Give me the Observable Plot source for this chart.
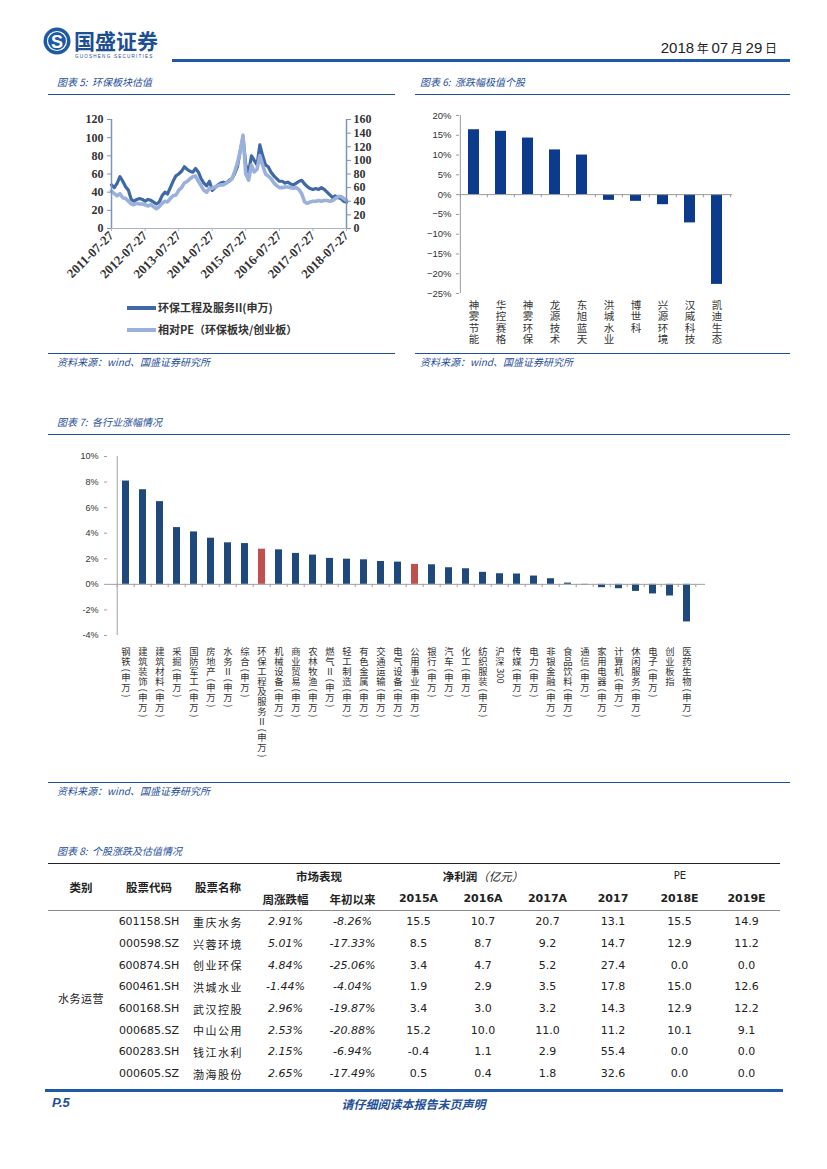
<!DOCTYPE html>
<html><head><meta charset="utf-8">
<script src="https://cdn.jsdelivr.net/npm/d3@7"></script>
<script src="https://cdn.jsdelivr.net/npm/@observablehq/plot@0.6"></script>
<style>
html,body{margin:0;padding:0;background:#fff}
body{width:827px;height:1169px;position:relative;overflow:hidden;font-family:"Noto Sans CJK SC",sans-serif;color:#222}
.abs{position:absolute}
.title{position:absolute;font-size:10px;font-style:italic;color:#1f4f99;white-space:nowrap;line-height:12px}
.rule{position:absolute;height:0;border-top:1.5px solid #1f4f99}
.src{position:absolute;font-size:10px;font-style:italic;color:#1f4f99;white-space:nowrap;line-height:12px}
.legend{position:absolute;font-size:11px;font-weight:bold;color:#333;white-space:nowrap;line-height:14px}
.legend i{display:inline-block;width:29px;height:4px;vertical-align:middle;margin-right:2px;position:relative;top:-1px}
table.t{position:absolute;left:48px;top:863px;border-collapse:collapse;table-layout:fixed;width:732px}
table.t td,table.t th{padding:0;text-align:center;white-space:nowrap;overflow:visible}
table.t th{font-weight:bold;font-size:11.5px;height:23px;color:#222}
table.t td{height:21.7px;font-family:"DejaVu Sans",sans-serif;font-size:11px;color:#222}
.cn{font-family:"Noto Sans CJK SC",sans-serif!important;font-size:11px!important;letter-spacing:1.5px}
.pct{font-style:italic}
.num{font-family:"DejaVu Sans",sans-serif!important;font-weight:bold!important;font-size:11px!important}
</style></head>
<body>
<!-- header -->
<svg class="abs" style="left:42px;top:24px" width="132" height="38">
  <circle cx="15" cy="17" r="13.5" fill="#1d5aa6"/>
  <circle cx="15" cy="17" r="9.5" fill="none" stroke="#fff" stroke-width="1.2"/>
  <text x="15" y="23.5" text-anchor="middle" font-family="Liberation Sans" font-weight="bold" font-size="18" fill="#fff">S</text>
  <text x="32" y="25" font-family="Noto Sans CJK SC" font-weight="bold" font-size="21" fill="#1d4f91">国盛证券</text>
  <text x="33" y="34" font-family="Liberation Sans" font-size="4.6" letter-spacing="1.2" fill="#1d4f91">GUOSHENG SECURITIES</text>
</svg>
<div class="abs" style="right:50px;top:39px;font-size:15px;color:#222;white-space:nowrap;font-family:'Liberation Sans',sans-serif">2018<span style="font-family:'Noto Sans CJK SC';font-size:12px"> 年 </span>07<span style="font-family:'Noto Sans CJK SC';font-size:12px"> 月 </span>29<span style="font-family:'Noto Sans CJK SC';font-size:12px"> 日</span></div>
<div class="abs" style="left:172px;top:59px;width:618px;height:3px;background:#1f5aa6"></div>

<div class="title" style="left:57px;top:76px">图表 5:&nbsp; 环保板块估值</div>
<div class="rule" style="left:48px;top:94px;width:347px"></div>
<div class="title" style="left:420px;top:76px">图表 6:&nbsp; 涨跌幅极值个股</div>
<div class="rule" style="left:415px;top:94px;width:375px"></div>

<div id="c5" class="abs" style="left:48px;top:105px;width:347px;height:188px"></div>
<div class="legend" style="left:127px;top:300px"><i style="background:#3e69a6"></i>环保工程及服务II(申万)</div>
<div class="legend" style="left:127px;top:322px"><i style="background:#9bb1dc"></i>相对PE（环保板块/创业板）</div>
<div id="c6" class="abs" style="left:415px;top:105px;width:330px;height:248px"></div>

<div class="rule" style="left:48px;top:353px;width:347px"></div>
<div class="src" style="left:57px;top:356px">资料来源：wind、国盛证券研究所</div>
<div class="rule" style="left:415px;top:353px;width:375px"></div>
<div class="src" style="left:420px;top:356px">资料来源：wind、国盛证券研究所</div>

<div class="title" style="left:57px;top:416px">图表 7:&nbsp; 各行业涨幅情况</div>
<div class="rule" style="left:48px;top:434px;width:742px"></div>
<div id="c7" class="abs" style="left:48px;top:445px;width:742px;height:320px"></div>
<div class="rule" style="left:48px;top:782px;width:742px"></div>
<div class="src" style="left:57px;top:785px">资料来源：wind、国盛证券研究所</div>

<div class="title" style="left:57px;top:845px">图表 8:&nbsp; 个股涨跌及估值情况</div>
<table class="t" id="tbl"></table>

<div class="abs" style="left:45px;top:1089px;width:738px;height:3px;background:#1f5aa6"></div>
<div class="abs" style="left:52px;top:1095px;font-family:'Liberation Sans',sans-serif;font-weight:bold;font-style:italic;font-size:13px;color:#1f4f99">P.5</div>
<div class="abs" style="left:0;width:827px;text-align:center;top:1095px;font-weight:bold;font-style:italic;font-size:12px;color:#1f4f99">请仔细阅读本报告末页声明</div>

<script>
// ---------- Chart 5 data (monthly readings, 2011-07 .. 2018-07) ----------
const seriesStart = "2011-07-27";
const sectorPE = [48,45,50,57,52,46,
  42,32,30,32,33,32,30,32,31,29,27,29,
  36,40,38,45,52,58,60,63,68,65,63,62,
  66,62,55,50,47,52,42,45,48,50,51,50,
  53,55,60,68,85,100,70,62,80,75,70,92,
  80,70,68,62,58,55,52,52,50,51,49,48,
  50,52,53,49,46,44,43,44,43,45,43,40,
  37,34,36,34,33,30,29];
const relativePE = [55,51,48,51,45,44,
  40,36,35,37,36,36,35,33,35,32,29,32,
  37,40,39,44,48,49,56,60,67,69,73,76,
  77,69,63,56,53,59,59,61,63,64,64,67,
  69,73,83,96,113,137,80,71,93,83,87,107,
  93,80,77,73,67,63,60,60,61,61,60,59,
  60,57,51,39,37,39,40,40,41,40,41,41,
  40,41,44,47,47,44,41];
const c5TickDates = ["2011-07-27","2012-07-27","2013-07-27","2014-07-27","2015-07-27","2016-07-27","2017-07-27","2018-07-27"];
const leftTicks = [0,20,40,60,80,100,120];
const rightTicks = [0,20,40,60,80,100,120,140,160];

// ---------- Chart 6 data ----------
const extremeNames = ["神雾节能","华控赛格","神雾环保","龙源技术","东旭蓝天","洪城水业","博世科","兴源环境","汉威科技","凯迪生态"];
const extremeChange = [16.4,16.0,14.3,11.3,10.0,-1.45,-1.7,-2.55,-7.15,-22.7];
const c6Ticks = [-25,-20,-15,-10,-5,0,5,10,15,20];

// ---------- Chart 7 data ----------
const industries = ["钢铁(申万)","建筑装饰(申万)","建筑材料(申万)","采掘(申万)","国防军工(申万)","房地产(申万)","水务Ⅱ(申万)","综合(申万)","环保工程及服务Ⅱ(申万)","机械设备(申万)","商业贸易(申万)","农林牧渔(申万)","燃气Ⅱ(申万)","轻工制造(申万)","有色金属(申万)","交通运输(申万)","电气设备(申万)","公用事业(申万)","银行(申万)","汽车(申万)","化工(申万)","纺织服装(申万)","沪深300","传媒(申万)","电力(申万)","非银金融(申万)","食品饮料(申万)","通信(申万)","家用电器(申万)","计算机(申万)","休闲服务(申万)","电子(申万)","创业板指","医药生物(申万)"];
const industryChange = [8.08,7.40,6.47,4.44,4.10,3.61,3.25,3.19,2.75,2.70,2.42,2.29,2.03,1.97,1.92,1.79,1.74,1.56,1.53,1.30,1.22,0.94,0.83,0.81,0.65,0.44,0.10,-0.05,-0.26,-0.34,-0.55,-0.75,-0.91,-2.94];
const highlighted = ["环保工程及服务Ⅱ(申万)","公用事业(申万)"];
const c7Ticks = [-4,-2,0,2,4,6,8,10];

// ---------- Table 8 data ----------
const stockCategory = "水务运营";
const stockCodes = ["601158.SH","000598.SZ","600874.SH","600461.SH","600168.SH","000685.SZ","600283.SH","000605.SZ"];
const stockNames = ["重庆水务","兴蓉环境","创业环保","洪城水业","武汉控股","中山公用","钱江水利","渤海股份"];
const weekChange = ["2.91%","5.01%","4.84%","-1.44%","2.96%","2.53%","2.15%","2.65%"];
const ytdChange = ["-8.26%","-17.33%","-25.06%","-4.04%","-19.87%","-20.88%","-6.94%","-17.49%"];
const np2015A = [15.5,8.5,3.4,1.9,3.4,15.2,-0.4,0.5];
const np2016A = [10.7,8.7,4.7,2.9,3.0,10.0,1.1,0.4];
const np2017A = [20.7,9.2,5.2,3.5,3.2,11.0,2.9,1.8];
const pe2017 = [13.1,14.7,27.4,17.8,14.3,11.2,55.4,32.6];
const pe2018E = [15.5,12.9,0.0,15.0,12.9,10.1,0.0,0.0];
const pe2019E = [14.9,11.2,0.0,12.6,12.2,9.1,0.0,0.0];

const CJK = "'Noto Sans CJK SC', sans-serif";

// Split labels into glyphs stacked top-to-bottom (vertical writing); ASCII runs are turned sideways.
function stackGlyphs(labels, cjkAdv, asciiAdv) {
  const out = [];
  labels.forEach(name => {
    let pos = 0;
    for (const tok of name.match(/[\x21-\x7E]+|[^\x21-\x7E]/gu)) {
      const ascii = /^[\x21-\x7E]+$/.test(tok);
      const adv = ascii ? tok.length * asciiAdv : cjkAdv;
      out.push({name, ch: tok, center: pos + adv / 2, rotate: ascii ? 90 : 0});
      pos += adv;
    }
  });
  return out;
}

// ---------- Chart 5 ----------
{
  const start = new Date(seriesStart);
  const rows = sectorPE.map((v, i) => ({date: d3.utcMonth.offset(start, i), sector: v, rel: relativePE[i]}));
  const tickDates = c5TickDates.map(d => new Date(d));
  const k = 120 / 160;
  const axisColor = "#7f93b5";
  const svg = Plot.plot({
    width: 347, height: 188, marginLeft: 63, marginRight: 49, marginTop: 14, marginBottom: 65,
    style: {background: "transparent", overflow: "visible", color: "#333"},
    x: {type: "utc", domain: [tickDates[0], tickDates[tickDates.length - 1]], label: null},
    y: {domain: [0, 120], label: null},
    marks: [
      Plot.lineY(rows, {x: "date", y: "sector", stroke: "#3e69a6", strokeWidth: 3.2}),
      Plot.lineY(rows, {x: "date", y: d => d.rel * k, stroke: "#9bb1dc", strokeWidth: 3.6}),
      Plot.ruleX([tickDates[0]], {stroke: axisColor, strokeWidth: 1.5}),
      Plot.ruleX([tickDates[tickDates.length - 1]], {stroke: axisColor, strokeWidth: 1.5}),
      Plot.ruleY([0], {stroke: "#aab3c2", strokeWidth: 1}),
      Plot.axisY(leftTicks, {anchor: "left", label: null, tickSize: 4, tickPadding: 4, stroke: axisColor, fontFamily: "Liberation Serif", fontWeight: "bold", fontSize: 12, fill: "#333"}),
      Plot.axisY(rightTicks.map(d => d * k), {anchor: "right", label: null, tickSize: 4, tickPadding: 3, tickFormat: d => String(Math.round(d / k)), stroke: axisColor, fontFamily: "Liberation Serif", fontWeight: "bold", fontSize: 12, fill: "#333"}),
      Plot.axisX(tickDates, {anchor: "bottom", label: null, tickSize: 3, tickPadding: 2, tickRotate: -45, tickFormat: d3.utcFormat("%Y-%m-%d"), stroke: "#aab3c2", fontFamily: "Liberation Serif", fontWeight: "bold", fontSize: 13, fill: "#333"})
    ]
  });
  document.getElementById("c5").appendChild(svg);
}

// ---------- Chart 6 ----------
{
  const rows = extremeNames.map((name, i) => ({name, value: extremeChange[i]}));
  const W = 330, H = 248, ML = 44, MR = 13, MT = 10, MB = 60;
  const step = (W - ML - MR) / extremeNames.length;
  const yDom = [-25, 20];
  const pxPerUnit = (H - MT - MB) / (yDom[1] - yDom[0]);
  const glyphs = stackGlyphs(extremeNames, 11.5, 6.5);
  const svg = Plot.plot({
    width: W, height: H, marginLeft: ML, marginRight: MR, marginTop: MT, marginBottom: MB,
    style: {background: "transparent", overflow: "visible", color: "#333"},
    x: {domain: extremeNames, paddingInner: 0.59, paddingOuter: 0.295, axis: null},
    y: {domain: yDom, label: null},
    marks: [
      Plot.barY(rows, {x: "name", y: "value", fill: "#0c3b8e"}),
      Plot.ruleX([extremeNames[0]], {dx: -step / 2, stroke: "#9a9a9a", strokeWidth: 1}),
      Plot.ruleY([0], {stroke: "#9a9a9a", strokeWidth: 1}),
      Plot.ruleX(extremeNames, {x: d => d, y1: 0, y2: -0.8, dx: -step / 2, stroke: "#9a9a9a"}),
      Plot.ruleX([extremeNames[extremeNames.length - 1]], {y1: 0, y2: -0.8, dx: step / 2, stroke: "#9a9a9a"}),
      Plot.axisY(c6Ticks, {anchor: "left", label: null, tickSize: 3, tickPadding: 5, stroke: "#9a9a9a", tickFormat: d => (d < 0 ? "−" : "") + Math.abs(d) + "%", fontFamily: "Liberation Sans", fontSize: 9.5, fill: "#333"}),
      Plot.text(glyphs, {x: "name", y: d => yDom[0] - (6 + d.center) / pxPerUnit, text: "ch", rotate: "rotate", textAnchor: "middle", lineAnchor: "middle", fontFamily: CJK, fontSize: 10.5, fill: "#333"})
    ]
  });
  document.getElementById("c6").appendChild(svg);
}

// ---------- Chart 7 ----------
{
  const rows = industries.map((name, i) => ({name, value: industryChange[i]}));
  const W = 742, H = 320, ML = 59, MR = 85, MT = 11, MB = 130;
  const step = (W - ML - MR) / industries.length;
  const yDom = [-4, 10];
  const pxPerUnit = (H - MT - MB) / (yDom[1] - yDom[0]);
  const glyphs = stackGlyphs(industries, 10, 5.6);
  const svg = Plot.plot({
    width: W, height: H, marginLeft: ML, marginRight: MR, marginTop: MT, marginBottom: MB,
    style: {background: "transparent", overflow: "visible", color: "#333"},
    x: {domain: industries, paddingInner: 0.58, paddingOuter: 0.29, axis: null},
    y: {domain: yDom, label: null},
    marks: [
      Plot.barY(rows, {x: "name", y: "value", fill: d => highlighted.includes(d.name) ? "#c0504d" : "#1f497d"}),
      Plot.ruleX([industries[0]], {dx: -step / 2, stroke: "#a0a0a0", strokeWidth: 1}),
      Plot.ruleY([0], {stroke: "#a0a0a0", strokeWidth: 1}),
      Plot.ruleX(industries, {x: d => d, y1: 0, y2: -0.25, dx: -step / 2, stroke: "#a0a0a0"}),
      Plot.ruleX([industries[industries.length - 1]], {y1: 0, y2: -0.25, dx: step / 2, stroke: "#a0a0a0"}),
      Plot.axisY(c7Ticks, {anchor: "left", label: null, tickSize: 3, tickPadding: 6, stroke: "#a0a0a0", tickFormat: d => d + "%", fontFamily: "Liberation Sans", fontSize: 9, fill: "#333"}),
      Plot.text(glyphs, {x: "name", y: d => yDom[0] - (12 + d.center) / pxPerUnit, text: "ch", rotate: "rotate", textAnchor: "middle", lineAnchor: "middle", fontFamily: CJK, fontSize: 9.3, fill: "#333"})
    ]
  });
  document.getElementById("c7").appendChild(svg);
}

// ---------- Table 8 ----------
{
  const widths = [66,70,68,67,67,65,64,65,66,67,67];
  const tbl = document.getElementById("tbl");
  let html = "<colgroup>" + widths.map(w => `<col style="width:${w}px">`).join("") + "</colgroup>";
  html += `<tr style="border-top:1.6px solid #222">
    <th rowspan="2">类别</th><th rowspan="2">股票代码</th><th rowspan="2">股票名称</th>
    <th colspan="2">市场表现</th>
    <th colspan="3">净利润<span style="font-weight:normal;font-style:italic">（亿元）</span></th>
    <th colspan="3" style="font-family:'DejaVu Sans';font-weight:normal;font-size:10px">PE</th></tr>`;
  html += `<tr style="border-bottom:1.6px solid #8a8a8a"><th>周涨跌幅</th><th>年初以来</th>` +
    ["2015A","2016A","2017A","2017","2018E","2019E"].map(h => `<th class="num">${h}</th>`).join("") + "</tr>";
  stockCodes.forEach((code, i) => {
    html += "<tr>";
    if (i === 0) html += `<td rowspan="${stockCodes.length}" class="cn" style="letter-spacing:0.5px">${stockCategory}</td>`;
    html += `<td>${code}</td><td class="cn">${stockNames[i]}</td>`;
    html += `<td class="pct">${weekChange[i]}</td><td class="pct">${ytdChange[i]}</td>`;
    [np2015A, np2016A, np2017A, pe2017, pe2018E, pe2019E].forEach(arr => { html += `<td>${arr[i].toFixed(1)}</td>`; });
    html += "</tr>";
  });
  tbl.innerHTML = html;
}
</script>
</body></html>
